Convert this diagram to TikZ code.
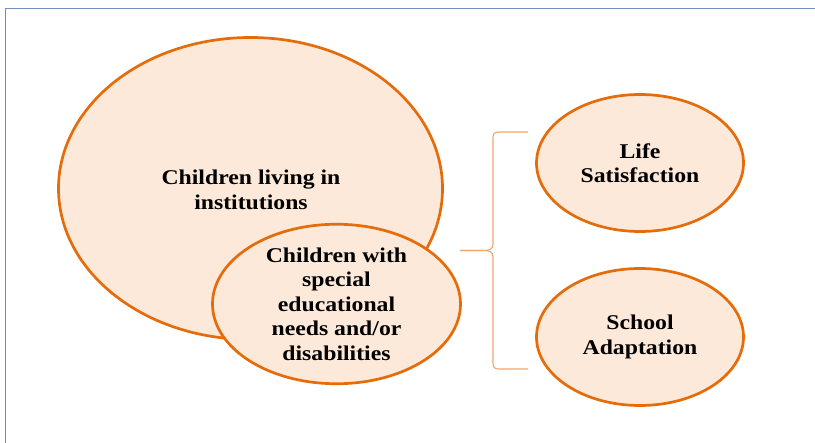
\documentclass[tikz,border=0pt]{standalone}
\usepackage{fontspec}
\newfontfamily\diagfont[FakeStretch=1.13]{Liberation Serif}
\usetikzlibrary{shapes.geometric}
\definecolor{frameblue}{HTML}{6F8FBF}
\definecolor{ellborder}{HTML}{E46C0A}
\definecolor{ellfill}{HTML}{FDE9D9}
\definecolor{bracecol}{HTML}{F2A46B}
\begin{document}
\begin{tikzpicture}[x=1pt,y=-1pt,
  bubble/.style={ellipse, draw=ellborder, fill=ellfill, line width=2.7pt, inner sep=0pt, align=center,
    font=\diagfont\bfseries\fontsize{21}{24.5}\selectfont, text=black}]
\useasboundingbox (0,0) rectangle (815,443);
\draw[frameblue, line width=1.3pt] (815,8.5) -- (5.5,8.5) -- (5.5,443);
\node[bubble, minimum width=384pt, minimum height=302pt] (inst) at (250.5,188.5) {};
\node[font=\diagfont\bfseries\fontsize{21}{24.5}\selectfont, align=center] (instlabel) at (251,190) {Children living in\\institutions};
\node[bubble, minimum width=248pt, minimum height=159pt] (sen) at (336.5,304) {Children with\\special\\educational\\needs and/or\\disabilities};
\node[bubble, minimum width=207pt, minimum height=137pt] (life) at (640,163) {Life\\Satisfaction};
\node[bubble, minimum width=207pt, minimum height=137pt] (school) at (640,337) {School\\Adaptation};
\coordinate (tip) at (460,250.5);
\coordinate (btop) at (528,132);
\coordinate (bbot) at (528,369);
\draw[bracecol, line width=1.1pt] (btop) -- (499,132) .. controls (494,132) and (493,134) .. (493,138)
  -- (493,244) .. controls (493,249) and (490,250.5) .. (483,250.5) -- (tip);
\draw[bracecol, line width=1.1pt] (tip) -- (483,250.5) .. controls (490,250.5) and (493,252) .. (493,257)
  -- (493,363) .. controls (493,367) and (494,369) .. (499,369) -- (bbot);
\end{tikzpicture}
\end{document}
